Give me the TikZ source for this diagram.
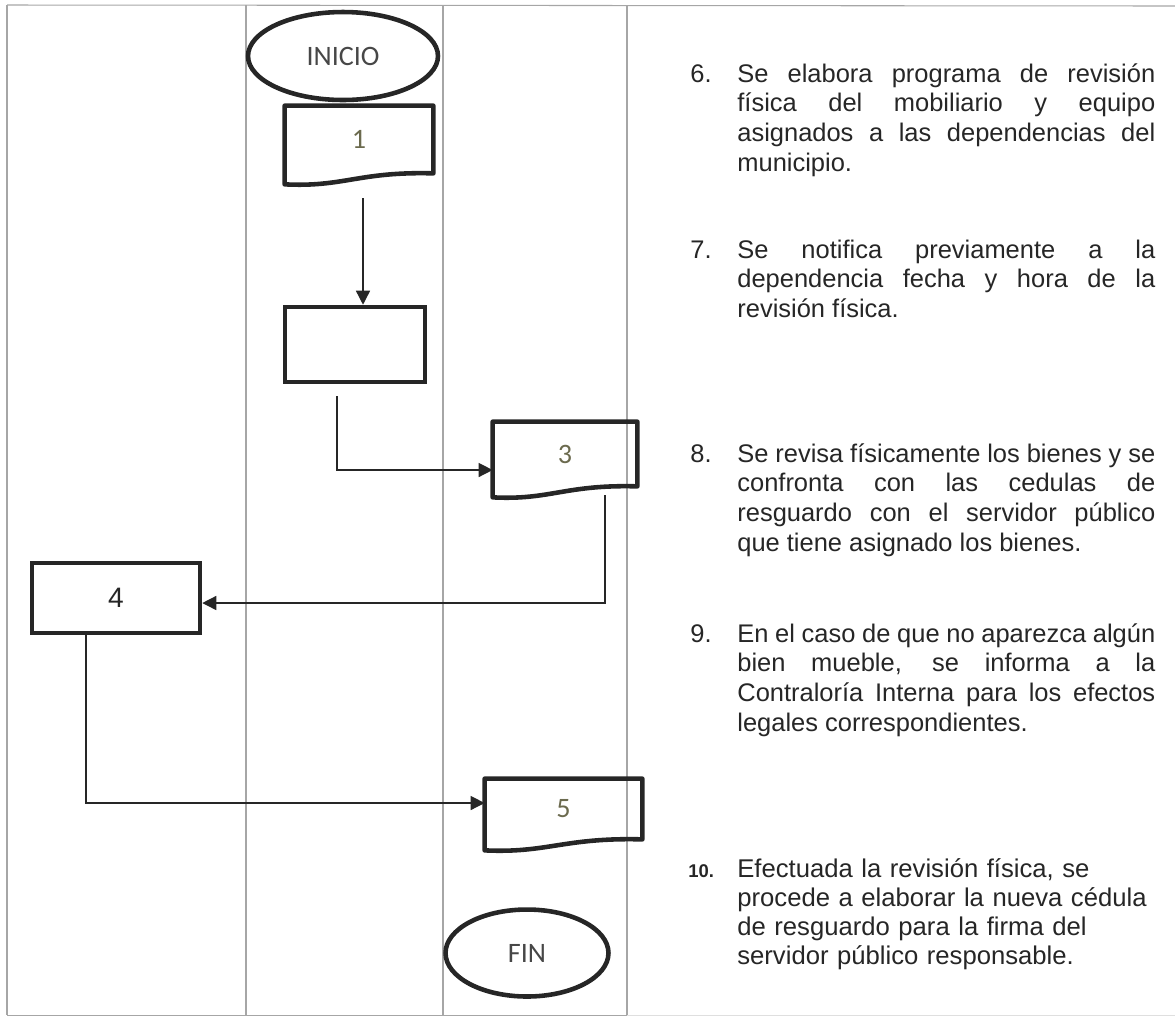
\documentclass[tikz,border=0pt]{standalone}
\usepackage{fontspec}
\setmainfont{Liberation Sans}
\newfontfamily\calibri{Carlito}
\usetikzlibrary{shapes.geometric,arrows.meta,calc}
\hyphenpenalty=10000
\exhyphenpenalty=10000

\definecolor{ink}{HTML}{262626}
\definecolor{olive}{HTML}{6B6A4E}

\tikzset{
	lane/.style={draw=gray!70, line width=0.6pt},
	terminal/.style={ellipse, draw=ink, line width=2.6pt, inner sep=0pt, text=ink!85, font=\calibri\fontsize{16}{18}\selectfont},
	procbox/.style={rectangle, draw=ink, line width=2.6pt, inner sep=0pt},
	docbox/.style={rectangle, inner sep=0pt, text=olive, font=\calibri\fontsize{16}{18}\selectfont},
	flow/.style={draw=ink, line width=0.8pt, -{Triangle[length=8pt,width=8pt]}},
	paso/.style={anchor=base west, inner sep=0pt, text=ink, font=\fontsize{14.5}{17}\selectfont},
}

% contorno de documento con fondo ondulado
\newcommand{\docline}[1]{%
	\draw[draw=ink, line width=2.6pt, line join=round] (#1.south east) -- (#1.north east) -- (#1.north west) -- ([yshift=-0.22cm]#1.south west)
	.. controls ($(#1.south west)!0.4!(#1.south east)+(0,-0.28cm)$) and ($(#1.south west)!0.5!(#1.south east)+(0,0.04cm)$) .. (#1.south east) -- cycle;}

\begin{document}
\begin{tikzpicture}[x=0.02cm, y=-0.02cm]
	\useasboundingbox (0,0) rectangle (1175,1019);
	% carriles
	\draw[lane] (7,5) -- (1175,6);
	\draw[lane] (7,1015) -- (627,1015);
	\draw[lane, draw=gray!25] (627,1015) -- (1175,1015);
	\foreach \x in {7,246,443,627} \draw[lane] (\x,5) -- (\x,1015);

	\node[terminal, minimum width=3.8cm, minimum height=1.76cm] (inicio) at (343,56) {INICIO};
	\node[docbox, minimum width=2.96cm, minimum height=1.34cm] (d1) at (359,139.5) {1};
	\node[procbox, minimum width=2.8cm, minimum height=1.5cm] (p2) at (355,344.5) {};
	\node[docbox, minimum width=2.88cm, minimum height=1.28cm] (d3) at (565,454) {3};
	\node[procbox, minimum width=3.36cm, minimum height=1.4cm, text=ink, font=\fontsize{16}{18}\selectfont] (p4) at (116,598) {4};
	\node[docbox, minimum width=3.14cm, minimum height=1.2cm] (d5) at (563.5,809) {5};
	\node[terminal, minimum width=3.26cm, minimum height=1.74cm] (fin) at (527,953) {FIN};
	\docline{d1}
	\docline{d3}
	\docline{d5}

	\draw[flow] ([xshift=0.08cm,yshift=-0.5cm]d1.south) -- ([xshift=0.08cm]d1.south |- p2.north);
	\draw[flow] ([xshift=-0.36cm,yshift=-0.24cm]p2.south) |- ([yshift=-0.32cm]d3.west);
	\draw[flow] ([xshift=0.8cm,yshift=-0.18cm]d3.south) |- ([yshift=-0.1cm]p4.east);
	\draw[flow] ([xshift=-0.6cm]p4.south) |- ([yshift=0.12cm]d5.west);

	% descripcion de pasos
	\node[paso] (n6) at (690,82) {6.};
	\node[paso, text width=8.36cm, align=justify] (t6) at (737,82) {Se elabora programa de revisión\linebreak física del mobiliario y equipo\linebreak asignados a las dependencias del\linebreak municipio.};
	\node[paso] (n7) at (690,258) {7.};
	\node[paso, text width=8.36cm, align=justify] (t7) at (737,258) {Se notifica previamente a la\linebreak dependencia fecha y hora de la\linebreak revisión física.};
	\node[paso] (n8) at (690,462) {8.};
	\node[paso, text width=8.36cm, align=justify] (t8) at (737,462) {Se revisa físicamente los bienes y se\linebreak confronta con las cedulas de\linebreak resguardo con el servidor público\linebreak que tiene asignado los bienes.};
	\node[paso] (n9) at (690,642) {9.};
	\node[paso, text width=8.36cm, align=justify] (t9) at (737,642) {En el caso de que no aparezca algún\linebreak bien mueble, se informa a la\linebreak Contraloría Interna para los efectos\linebreak legales correspondientes.};
	\node[paso, font=\bfseries\fontsize{10.5}{12}\selectfont] (n10) at (688,877) {10.};
	\node[paso, text width=9cm, align=left, font=\fontsize{14.6}{16.6}\selectfont] (t10) at (737,877) {Efectuada la revisión física, se\\ procede a elaborar la nueva cédula\\ de resguardo para la firma del\\ servidor público responsable.};
\end{tikzpicture}
\end{document}
